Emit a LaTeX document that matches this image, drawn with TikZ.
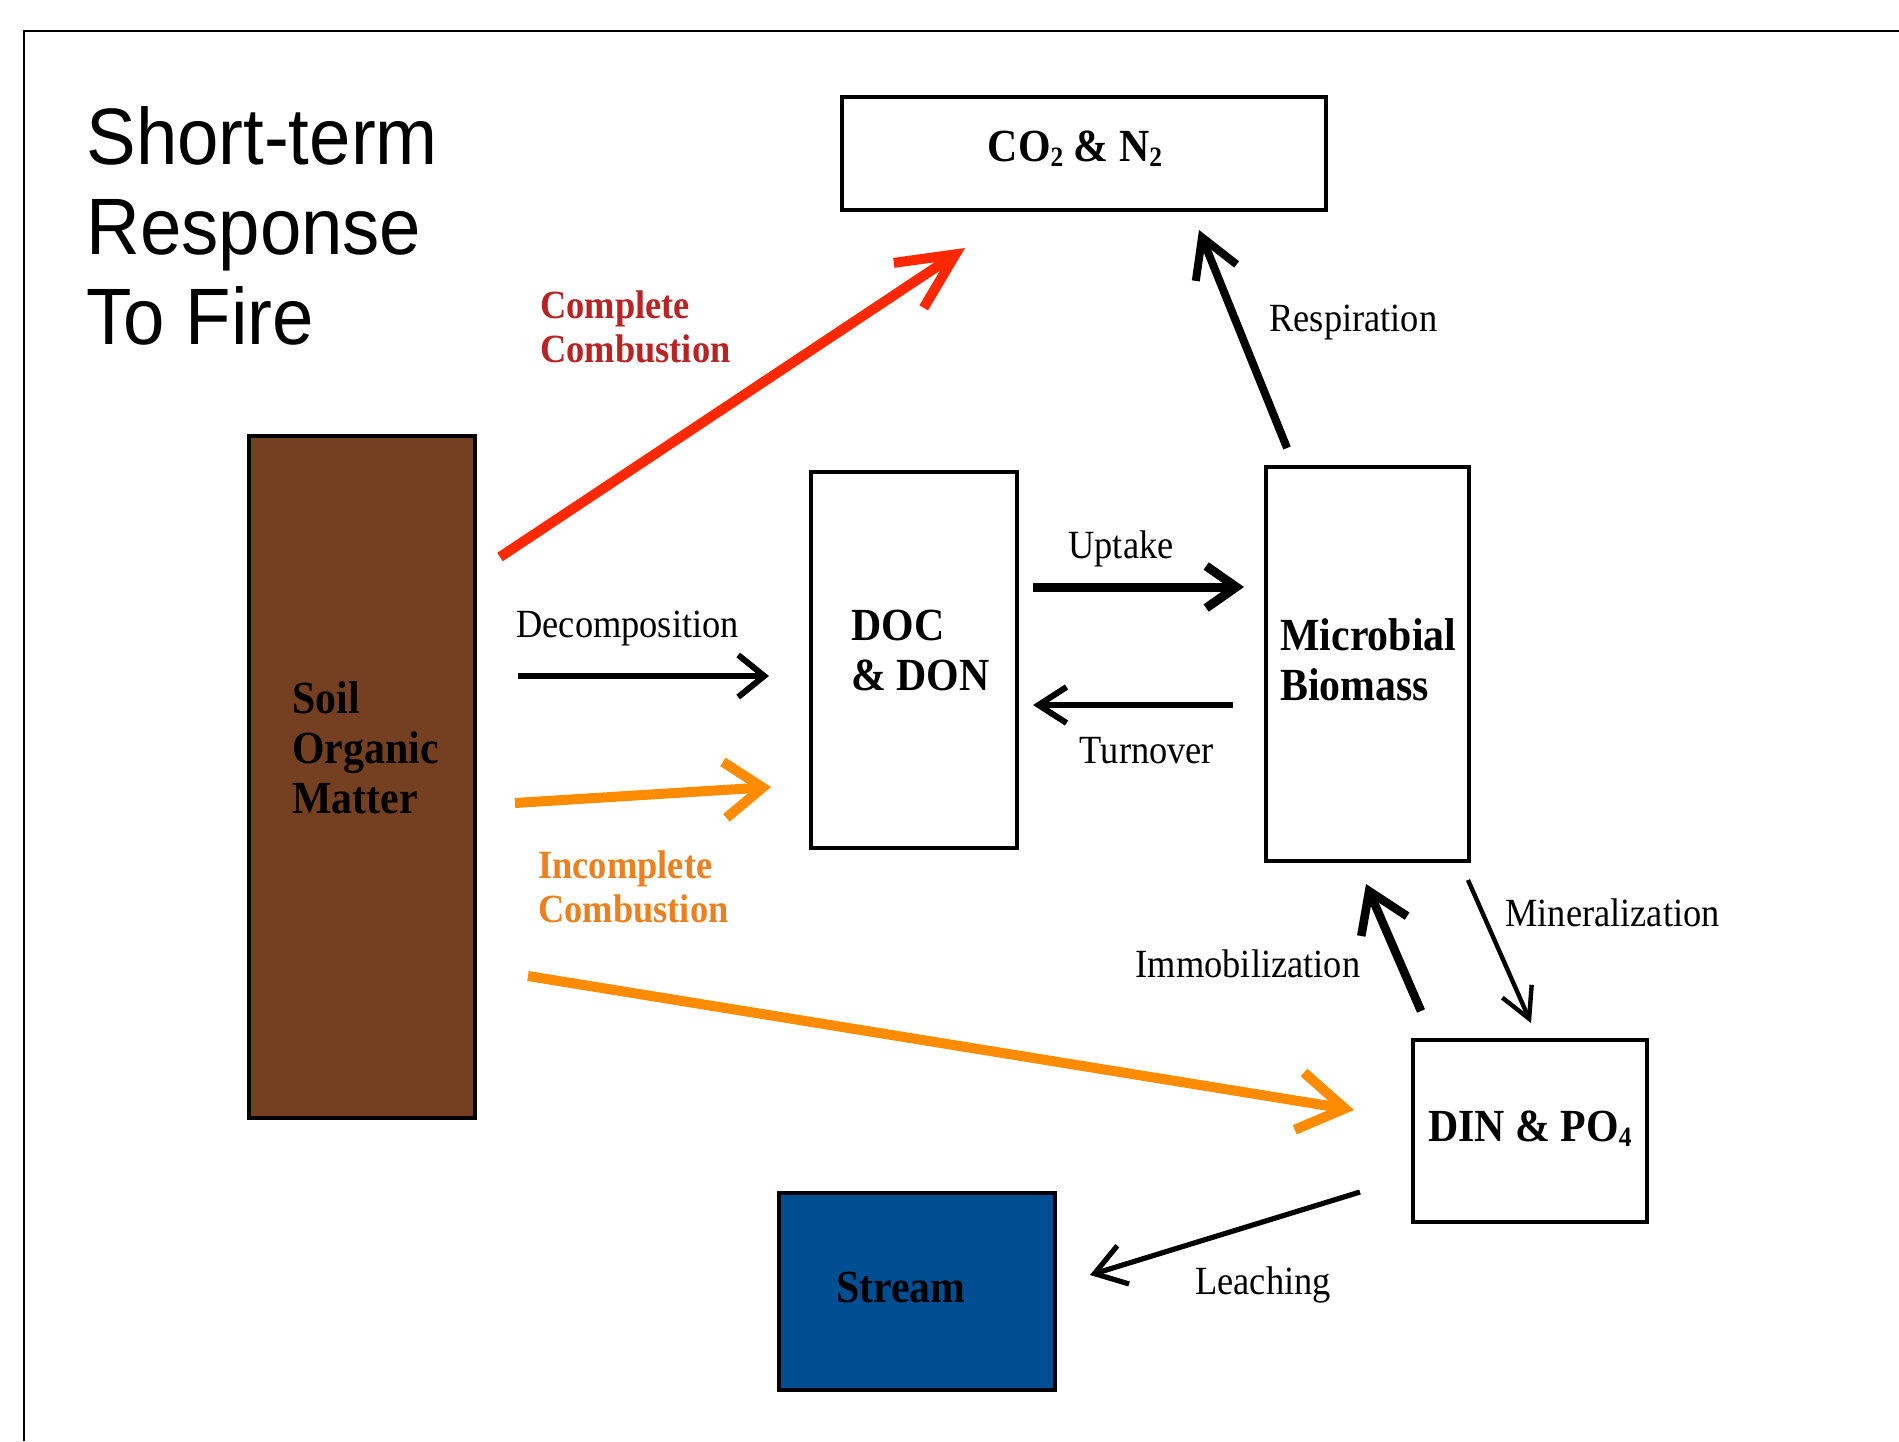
\documentclass[tikz,border=0pt]{standalone}
\usepackage{fontspec}
\setmainfont{Liberation Serif}[FakeStretch=0.91]
\newfontfamily\titlefont{Liberation Sans}[FakeStretch=0.93]
\usetikzlibrary{arrows.meta}
\definecolor{soilbrown}{RGB}{117,64,33}
\definecolor{streamblue}{RGB}{0,78,146}
\definecolor{firered}{RGB}{255,40,0}
\definecolor{fireorange}{RGB}{255,140,0}
\definecolor{labelred}{RGB}{185,35,35}
\definecolor{labelorange}{RGB}{236,128,30}
\newcommand{\smallsub}[1]{\raisebox{-0.25ex}{\fontsize{14}{14}\selectfont #1}}
\begin{document}
\begin{tikzpicture}[x=0.5pt,y=-0.5pt,
  box/.style={draw=black, line width=1.8pt, inner sep=0pt, rectangle},
  boxtext/.style={font=\fontsize{23}{25}\selectfont\bfseries, align=left, inner sep=0pt},
  flowlabel/.style={font=\fontsize{20}{22}\selectfont, inner sep=0pt},
  firelabel/.style={font=\fontsize{20}{22}\selectfont\bfseries, align=left, inner sep=0pt},
  barb/.style n args={3}{line width=#1, -{Straight Barb[length=#2, width=#3]}},
]
\useasboundingbox (0,0) rectangle (1899,1441);
\fill[white] (0,0) rectangle (1899,1441);
% frame (cropped at right and bottom)
\draw[line width=1pt] (24,1441) -- (24,31) -- (1899,31);

% title
\node[font=\titlefont\fontsize{40}{45}\selectfont, align=left, anchor=west, inner sep=0pt] (title) at (86,226)
  {Short-term\\Response\\To Fire};

% boxes
\node[box, minimum width=242pt, minimum height=56.5pt] (co2) at (1084,153.5) {};
\node[box, fill=soilbrown, minimum width=113pt, minimum height=341pt] (soil) at (362,777) {};
\node[box, minimum width=103pt, minimum height=188pt] (doc) at (914,660) {};
\node[box, minimum width=101.5pt, minimum height=197pt] (micro) at (1367.5,664) {};
\node[box, minimum width=117pt, minimum height=91pt] (din) at (1530,1131) {};
\node[box, fill=streamblue, minimum width=138pt, minimum height=98.5pt] (stream) at (917,1291.5) {};

% box texts
\node[boxtext, anchor=center] (co2t) at (1075,149) {CO\smallsub{2} \& N\smallsub{2}};
\node[boxtext, anchor=west] (soilt) at (292,748) {Soil\\Organic\\Matter};
\node[boxtext, anchor=west] (doct) at (851,650) {DOC\\\& DON};
\node[boxtext, anchor=west] (microt) at (1280,660) {Microbial\\Biomass};
\node[boxtext, anchor=center] (dint) at (1530,1129) {DIN \& PO\smallsub{4}};
\node[boxtext, anchor=center] (streamt) at (901,1287) {Stream};

% connector end points
\coordinate (redS) at (500,557);   \coordinate (redE) at (965,248);
\coordinate (respS) at (1287,448); \coordinate (respE) at (1199,230);
\coordinate (decS) at (518,676);   \coordinate (decE) at (769,676);
\coordinate (or1S) at (515,803);   \coordinate (or1E) at (771,787);
\coordinate (or2S) at (528,976);   \coordinate (or2E) at (1354,1110);
\coordinate (upS) at (1033,587);   \coordinate (upE) at (1244,587);
\coordinate (turnS) at (1233,705); \coordinate (turnE) at (1033,705);
\coordinate (immS) at (1421,1011); \coordinate (immE) at (1366,884);
\coordinate (minS) at (1468,880);  \coordinate (minE) at (1531,1023);
\coordinate (leachS) at (1360,1192); \coordinate (leachE) at (1090,1275);

% connectors
\draw[barb={5pt}{28pt}{27pt}, draw=firered] (redS) -- (redE);
\draw[barb={4pt}{19pt}{22pt}] (respS) -- (respE);
\draw[barb={3pt}{13pt}{21pt}] (decS) -- (decE);
\draw[barb={5pt}{19pt}{28pt}, draw=fireorange] (or1S) -- (or1E);
\draw[barb={5pt}{23pt}{29pt}, draw=fireorange] (or2S) -- (or2E);
\draw[barb={4.5pt}{15pt}{21pt}] (upS) -- (upE);
\draw[barb={3pt}{14pt}{18pt}] (turnS) -- (turnE);
\draw[barb={4.3pt}{19pt}{25pt}] (immS) -- (immE);
\draw[barb={2.2pt}{15pt}{16pt}] (minS) -- (minE);
\draw[barb={2.6pt}{15pt}{20pt}] (leachS) -- (leachE);

% labels
\node[firelabel, text=labelred, anchor=west] (cclab) at (540,327) {Complete\\Combustion};
\node[firelabel, text=labelorange, anchor=west] (iclab) at (538,887) {Incomplete\\Combustion};
\node[flowlabel, anchor=west] (resplab) at (1269,323) {Respiration};
\node[flowlabel, anchor=west] (declab) at (516,629) {Decomposition};
\node[flowlabel] (uplab) at (1121,549) {Uptake};
\node[flowlabel] (turnlab) at (1147,751) {Turnover};
\node[flowlabel] (immlab) at (1248,964) {Immobilization};
\node[flowlabel, anchor=west] (minlab) at (1505,913) {Mineralization};
\node[flowlabel] (leachlab) at (1263,1285) {Leaching};
\end{tikzpicture}
\end{document}
